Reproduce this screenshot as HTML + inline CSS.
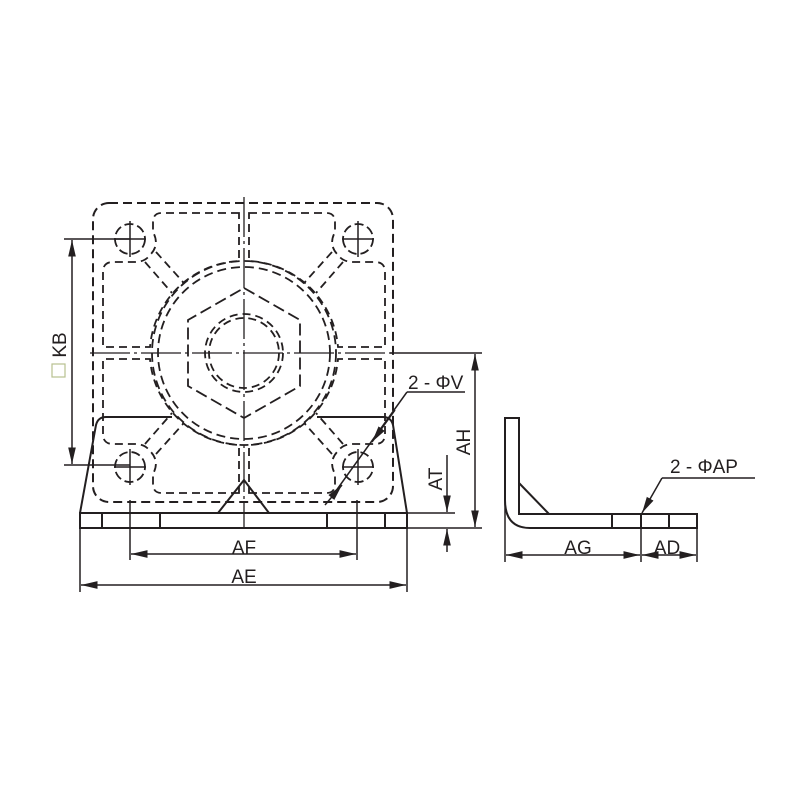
<!DOCTYPE html>
<html><head><style>html,body{margin:0;padding:0;background:#fff}svg{display:block}</style></head>
<body>
<svg width="800" height="800" viewBox="0 0 800 800" xmlns="http://www.w3.org/2000/svg">
<defs>
<marker id="a" viewBox="0 0 16 8" refX="16" refY="4" markerWidth="11" markerHeight="5.5" markerUnits="strokeWidth" orient="auto-start-reverse"><path d="M0,0.3 L16,4 L0,7.7 Z" fill="#231f20"/></marker>
<g id="q">
 <path d="M239,213 L162,213 Q153,213 153,222 L153,232 Q160,245 150,255 Q145,262 135,262 L113,262 Q103,262 103,272 L103,347 L150,347 A94,94 0 0 1 239,261 Z" fill="none" stroke="#231f20" stroke-width="1.8" stroke-dasharray="8,5"/>
 <line x1="145" y1="262" x2="172" y2="293" stroke="#231f20" stroke-width="1.8" stroke-dasharray="8,5"/>
 <line x1="156" y1="252" x2="183" y2="282" stroke="#231f20" stroke-width="1.8" stroke-dasharray="8,5"/>
 <circle cx="130" cy="239" r="15" fill="none" stroke="#231f20" stroke-width="1.8" stroke-dasharray="9,4"/>
 <line x1="130" y1="221" x2="130" y2="257" stroke="#231f20" stroke-width="1.5"/>
 <line x1="114" y1="239" x2="146" y2="239" stroke="#231f20" stroke-width="1.5"/>
</g>
</defs>
<g fill="none" stroke="#231f20" stroke-width="2">
 <rect x="93" y="203" width="300" height="299" rx="16" stroke-dasharray="9,5"/>
 <use href="#q"/>
 <use href="#q" transform="translate(488,0) scale(-1,1)"/>
 <use href="#q" transform="translate(0,706) scale(1,-1)"/>
 <use href="#q" transform="translate(488,706) scale(-1,-1)"/>
 <circle cx="244" cy="353" r="92" stroke-dasharray="9,5" stroke-width="1.8"/>
 <circle cx="244" cy="353" r="86" stroke-dasharray="9,5" stroke-width="1.8"/>
 <polygon points="244,288 300,320 300,386 244,418 188,386 188,320" stroke-dasharray="12,5" stroke-width="1.8"/>
 <circle cx="244" cy="353" r="39" stroke-dasharray="8,5" stroke-width="1.8"/>
 <circle cx="244" cy="353" r="35" stroke-dasharray="8,5" stroke-width="1.8"/>
 <line x1="244" y1="197" x2="244" y2="528" stroke-width="1.3" stroke-dasharray="40,4,3,4"/>
 <line x1="90" y1="353" x2="396" y2="353" stroke-width="1.3" stroke-dasharray="40,4,3,4"/>
 <path d="M80,513 L96,425 Q98,417 106,417 L172,417"/>
 <path d="M317,417 L383,417 Q391,417 393,425 L407,513"/>
 <rect x="80" y="513" width="327" height="15"/>
 <line x1="102" y1="513" x2="102" y2="528"/><line x1="160" y1="513" x2="160" y2="528"/>
 <line x1="327" y1="513" x2="327" y2="528"/><line x1="385" y1="513" x2="385" y2="528"/>
 <path d="M218,513 L244,480 L269,513"/>
 <g stroke-width="1.5">
 <line x1="130" y1="500" x2="130" y2="560"/><line x1="357" y1="500" x2="357" y2="560"/>
 <line x1="131" y1="554" x2="356" y2="554" marker-start="url(#a)" marker-end="url(#a)"/>
 <line x1="80" y1="528" x2="80" y2="592"/><line x1="407" y1="528" x2="407" y2="592"/>
 <line x1="81" y1="585" x2="406" y2="585" marker-start="url(#a)" marker-end="url(#a)"/>
 <line x1="64" y1="239" x2="130" y2="239"/><line x1="64" y1="465" x2="130" y2="465"/>
 <line x1="72" y1="240" x2="72" y2="464" marker-start="url(#a)" marker-end="url(#a)"/>
 <line x1="390" y1="353" x2="482" y2="353"/><line x1="407" y1="528" x2="482" y2="528"/>
 <line x1="475" y1="354" x2="475" y2="527" marker-start="url(#a)" marker-end="url(#a)"/>
 <line x1="407" y1="513" x2="455" y2="513"/>
 <line x1="447" y1="455" x2="447" y2="512" marker-end="url(#a)"/>
 <line x1="447" y1="552" x2="447" y2="529" marker-end="url(#a)"/>
 <line x1="407" y1="392" x2="465" y2="392"/>
 <line x1="407" y1="392" x2="333" y2="495"/>
 <line x1="395" y1="410" x2="372" y2="442" marker-end="url(#a)"/>
 <line x1="325" y1="505" x2="342" y2="485" marker-end="url(#a)"/>
 </g>
 <path d="M505,500 L505,418 L519,418 L519,514 L697,514 L697,528 L530,528 Q505,528 505,500"/>
 <line x1="519" y1="483" x2="549" y2="514"/>
 <line x1="612" y1="514" x2="612" y2="528"/><line x1="641" y1="514" x2="641" y2="528"/><line x1="669" y1="514" x2="669" y2="528"/>
 <g stroke-width="1.5">
 <line x1="505" y1="500" x2="505" y2="562"/><line x1="641" y1="528" x2="641" y2="562"/><line x1="697" y1="528" x2="697" y2="562"/>
 <line x1="506" y1="555" x2="640" y2="555" marker-start="url(#a)" marker-end="url(#a)"/>
 <line x1="642" y1="555" x2="696" y2="555" marker-start="url(#a)" marker-end="url(#a)"/>
 <line x1="662" y1="478" x2="755" y2="478"/>
 <line x1="662" y1="478" x2="642" y2="513" marker-end="url(#a)"/>
 </g>
</g>
<g font-family="Liberation Sans, sans-serif" font-size="19" fill="#231f20">
 <text x="244" y="554" text-anchor="middle">AF</text>
 <text x="244" y="583" text-anchor="middle">AE</text>
 <text x="408" y="389">2 - ΦV</text>
 <text x="670" y="473">2 - ΦAP</text>
 <text x="578" y="554" text-anchor="middle">AG</text>
 <text x="667" y="554" text-anchor="middle">AD</text>
 <text transform="translate(470,442) rotate(-90)" text-anchor="middle">AH</text>
 <text transform="translate(442,479) rotate(-90)" text-anchor="middle">AT</text>
 <text transform="translate(66,345) rotate(-90)" text-anchor="middle">KB</text>
</g>
<rect x="52" y="364" width="13" height="13" fill="none" stroke="#b8c090" stroke-width="1.2"/>
</svg>
</body></html>
